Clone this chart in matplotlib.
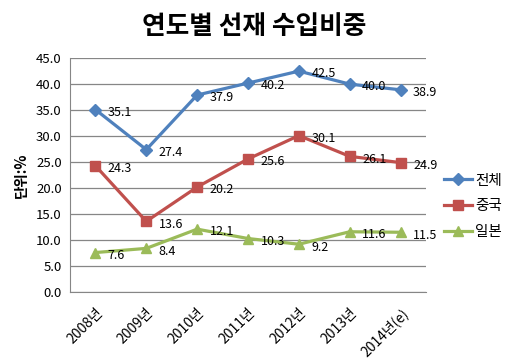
import matplotlib
matplotlib.use("Agg")
import matplotlib.pyplot as plt
import numpy as np

plt.rcParams['font.family'] = ['Noto Sans CJK KR', 'DejaVu Sans']

years = ["2008년", "2009년", "2010년", "2011년", "2012년", "2013년", "2014년(e)"]
total = [35.1, 27.4, 37.9, 40.2, 42.5, 40.0, 38.9]
china = [24.3, 13.6, 20.2, 25.6, 30.1, 26.1, 24.9]
japan = [7.6, 8.4, 12.1, 10.3, 9.2, 11.6, 11.5]
yticks = np.arange(0, 45.1, 5)

fig = plt.figure(figsize=(5.09, 3.61), dpi=100)
ax = fig.add_axes([0.1375, 0.191, 0.6995, 0.648])

x = np.arange(len(years))
series = [
    ("전체", total, "#4F81BD", "D", 6),
    ("중국", china, "#C0504D", "s", 7.5),
    ("일본", japan, "#9BBB59", "^", 7.5),
]
for name, vals, color, marker, ms in series:
    ax.plot(x, vals, color=color, lw=2.3, marker=marker, ms=ms, label=name, zorder=3)
    for xi, v in zip(x, vals):
        ax.annotate(f"{v:.1f}", (xi, v), xytext=(9, -2), textcoords="offset points",
                    ha="left", va="center", fontsize=9, color="black", zorder=4)

ax.set_xlim(-0.5, len(years) - 0.5)
ax.set_ylim(0, 45)
ax.set_yticks(yticks)
ax.set_yticklabels([f"{t:.1f}" for t in yticks], fontsize=9.5)
ax.set_xticks(x)
ax.set_xticklabels(years, rotation=45, ha="right", rotation_mode="anchor", fontsize=10)
ax.tick_params(axis="both", length=0, pad=6)
ax.tick_params(axis="x", pad=10)
ax.grid(axis="y", color="#868686", lw=0.9)
ax.set_axisbelow(True)
for s in ["top", "right"]:
    ax.spines[s].set_visible(False)
for s in ["left", "bottom"]:
    ax.spines[s].set_color("#868686")

ax.set_ylabel("단위:%", fontsize=10.5, fontweight="bold", labelpad=5)

ax.legend(loc="center left", bbox_to_anchor=(1.035, 0.367), frameon=False,
          borderaxespad=0, fontsize=10.5, handlelength=1.9, labelspacing=0.8,
          handletextpad=0.2)

fig.suptitle("연도별 선재 수입비중", fontsize=18.5, fontweight="bold", y=0.965)

fig.savefig("out.png", dpi=100)
